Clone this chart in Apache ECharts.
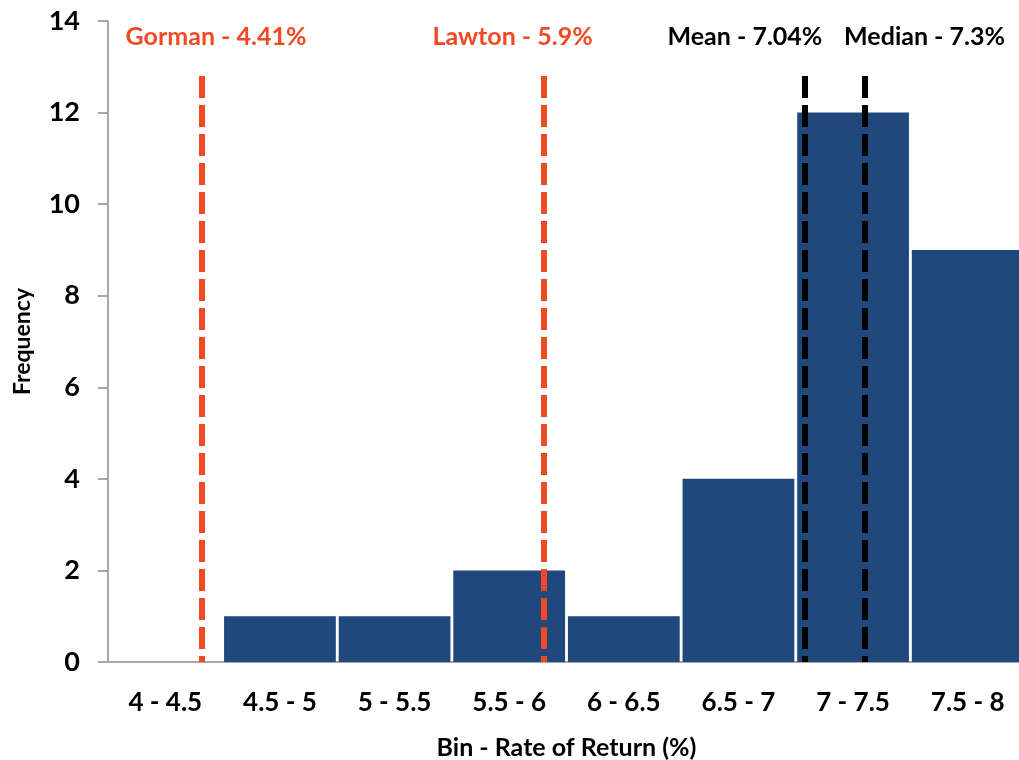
<!DOCTYPE html>
<html>
<head>
<meta charset="utf-8">
<script src="https://cdn.jsdelivr.net/npm/echarts@6/dist/echarts.min.js"></script>
<style>
  html, body { margin: 0; padding: 0; background: #fff; }
  #chart { width: 1019px; height: 760px; }
</style>
</head>
<body>
<div id="chart"></div>
<script>
// Histogram bins (rate of return, %) and their frequencies
const bins = ['4 - 4.5', '4.5 - 5', '5 - 5.5', '5.5 - 6', '6 - 6.5', '6.5 - 7', '7 - 7.5', '7.5 - 8'];
const frequency = [0, 1, 1, 2, 1, 4, 12, 9];

// Reference lines drawn over the histogram
const refNames = ['Gorman', 'Lawton', 'Mean', 'Median'];
const refValues = [4.41, 5.9, 7.04, 7.3];
const refLabels = ['Gorman - 4.41%', 'Lawton - 5.9%', 'Mean - 7.04%', 'Median - 7.3%'];
const refColors = ['#F04A24', '#F04A24', '#000000', '#000000'];
const refLabelShift = [14, -31, -60, 60];
const refTop = 12.8;

const FONT = 'Lato, "Open Sans", sans-serif';
const AXIS_GREY = '#A6A6A6';

// Each line runs from the top down so the dash pattern starts at the top
const refLines = refValues.map((v, i) => [
  {
    name: refNames[i],
    coord: [v, refTop],
    lineStyle: { color: refColors[i], width: 6, type: [22, 7] },
    label: {
      formatter: refLabels[i],
      color: refColors[i],
      offset: [refLabelShift[i], -22]
    }
  },
  { coord: [v, 0] }
]);

const chart = echarts.init(document.getElementById('chart'));
chart.setOption({
  animation: false,
  grid: { left: 108, right: -6, top: 21, bottom: 98, outerBoundsMode: 'none', containLabel: false },
  xAxis: [
    {
      type: 'category',
      data: bins,
      name: 'Bin - Rate of Return (%)',
      nameLocation: 'middle',
      nameGap: 73,
      nameTextStyle: { fontFamily: FONT, fontWeight: 'bold', fontSize: 25, color: '#000' },
      axisLine: { lineStyle: { color: AXIS_GREY, width: 2 } },
      axisTick: { length: 9, lineStyle: { color: AXIS_GREY, width: 2 } },
      axisLabel: { fontFamily: FONT, fontWeight: 'bold', fontSize: 26, color: '#000', margin: 28 }
    },
    {
      type: 'value', min: 4, max: 8, show: false
    }
  ],
  yAxis: {
    type: 'value',
    min: 0, max: 14, interval: 2,
    name: 'Frequency',
    nameLocation: 'middle',
    nameGap: 74,
    nameRotate: 90,
    nameTextStyle: { fontFamily: FONT, fontWeight: 'bold', fontSize: 23, color: '#000' },
    axisLine: { show: true, lineStyle: { color: AXIS_GREY, width: 2 } },
    axisTick: { show: true, length: 10, lineStyle: { color: AXIS_GREY, width: 2 } },
    splitLine: { show: false },
    axisLabel: { fontFamily: FONT, fontWeight: 'bold', fontSize: 27, color: '#000', margin: 28 }
  },
  series: [
    {
      type: 'bar',
      data: frequency,
      barCategoryGap: '2.5%',
      itemStyle: { color: '#1F497D' }
    },
    {
      type: 'line',
      xAxisIndex: 1,
      data: [],
      markLine: {
        silent: true,
        symbol: ['none', 'none'],
        label: {
          show: true,
          position: 'start',
          fontFamily: FONT,
          fontWeight: 'bold',
          fontSize: 25
        },
        data: refLines
      }
    }
  ]
});
</script>
</body>
</html>
